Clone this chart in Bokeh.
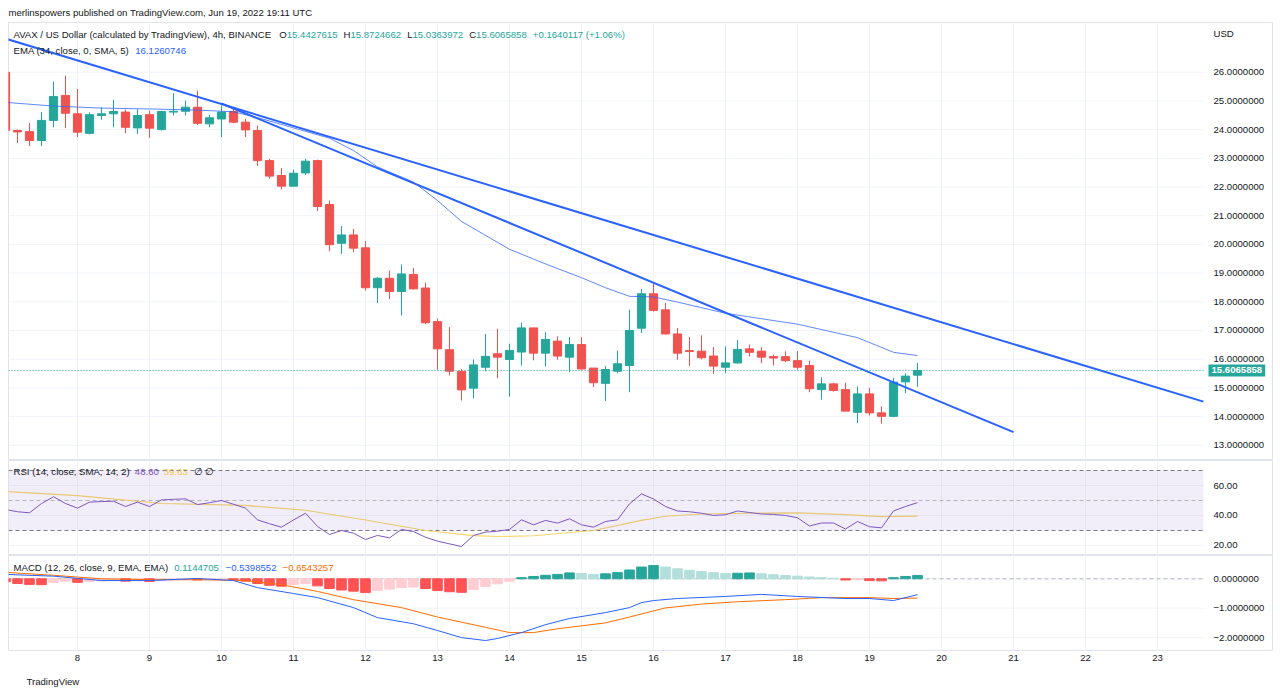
from bokeh.models import (Range1d, FixedTicker, Label, BoxAnnotation, Title,
                          ColumnDataSource, PrintfTickFormatter)
from bokeh.plotting import figure
from bokeh.layouts import column
from bokeh.embed import file_html
from bokeh.resources import INLINE

# ---------------- data (4h candles, index 0 = Jun 7 00:00 UTC) ----------------
days = [8, 9, 10, 11, 12, 13, 14, 15, 16, 17, 18, 19, 20, 21, 22, 23]
day_labels = [str(d) for d in days]

opens = [26.00, 23.97, 23.93, 23.62, 24.32, 25.19, 24.55, 23.87, 24.49, 24.55,
         24.61, 24.06, 24.52, 24.00, 24.61, 24.64, 24.78, 24.20, 24.37, 24.63,
         24.26, 23.97, 22.92, 22.40, 22.03, 22.49, 22.92, 21.39, 20.04, 20.33,
         19.88, 18.49, 18.82, 18.36, 18.95, 18.48, 17.31, 16.33, 15.58, 14.99,
         15.72, 16.19, 15.99, 16.25, 17.09, 16.21, 16.63, 16.07, 16.51, 15.69,
         15.16, 15.58, 15.78, 17.08, 18.28, 17.72, 16.88, 16.30, 16.28, 16.11,
         15.72, 15.87, 16.36, 16.28, 16.09, 16.09, 15.95, 15.78, 14.94, 15.14,
         14.94, 14.15, 14.79, 14.13, 14.01, 15.21, 15.4427615]
highs = [26.05, 24.00, 24.23, 24.61, 25.67, 25.88, 25.42, 24.60, 24.78, 25.04,
         24.70, 24.72, 24.66, 24.66, 25.27, 25.01, 25.36, 24.52, 24.84, 24.72,
         24.38, 24.14, 22.98, 22.66, 22.60, 22.98, 22.95, 21.53, 20.64, 20.54,
         20.11, 18.86, 19.09, 19.30, 19.18, 18.66, 17.41, 17.12, 15.66, 15.99,
         16.88, 17.06, 16.54, 17.27, 17.09, 16.94, 16.80, 16.77, 16.77, 15.69,
         15.76, 16.30, 17.72, 18.45, 18.68, 17.96, 17.09, 16.77, 16.83, 16.42,
         16.45, 16.67, 16.51, 16.42, 16.16, 16.28, 16.28, 15.95, 15.37, 15.18,
         15.18, 15.05, 15.00, 14.36, 15.35, 15.51, 15.8724662]
lows = [23.90, 23.53, 23.43, 23.43, 24.08, 24.05, 23.74, 23.83, 24.34, 24.08,
        23.87, 23.85, 23.71, 23.97, 24.49, 24.49, 24.16, 24.08, 23.74, 24.22,
        23.74, 22.73, 22.29, 21.91, 22.03, 22.42, 21.16, 19.76, 19.67, 19.73,
        18.39, 17.96, 18.10, 17.52, 18.43, 17.23, 15.63, 15.43, 14.56, 14.64,
        15.58, 15.34, 14.70, 15.78, 15.96, 15.75, 15.98, 15.55, 15.64, 15.03,
        14.54, 15.51, 14.85, 16.91, 17.66, 16.86, 15.98, 15.76, 15.99, 15.49,
        15.51, 15.84, 16.09, 15.86, 15.78, 15.90, 15.63, 14.85, 14.59, 14.87,
        14.19, 13.77, 14.04, 13.75, 13.98, 14.82, 15.0363972]
closes = [23.97, 23.92, 23.62, 24.32, 25.15, 24.57, 23.91, 24.52, 24.55, 24.63,
          24.08, 24.49, 24.05, 24.63, 24.64, 24.78, 24.22, 24.41, 24.61, 24.26,
          23.99, 22.92, 22.38, 22.03, 22.48, 22.90, 21.32, 19.99, 20.33, 19.87,
          18.49, 18.82, 18.36, 18.97, 18.45, 17.27, 16.36, 15.58, 14.93, 15.80,
          16.10, 16.07, 16.30, 17.09, 16.21, 16.69, 16.11, 16.51, 15.66, 15.18,
          15.64, 15.84, 17.00, 18.28, 17.70, 16.88, 16.21, 16.27, 16.05, 15.76,
          15.87, 16.34, 16.24, 16.07, 16.04, 15.95, 15.72, 14.97, 15.14, 14.91,
          14.19, 14.79, 14.13, 14.01, 15.20, 15.41, 15.6065858]

ema_idx = [0, 4, 8, 12, 16, 19, 21, 24, 27, 29, 31, 34, 36, 38, 42, 45, 48, 50,
           52, 54, 56, 60, 66, 71, 74, 76]
ema_val = [24.95, 24.82, 24.75, 24.72, 24.68, 24.62, 24.42, 24.06, 23.70, 23.27,
           22.70, 22.17, 21.53, 20.80, 19.83, 19.32, 18.84, 18.49, 18.19, 18.17,
           17.99, 17.60, 17.22, 16.75, 16.24, 16.126]

upper_tl_idx = [0, 99.83]
upper_tl_val = [27.17, 14.52]
lower_tl_idx = [18, 84]
lower_tl_val = [24.91, 13.46]

rsi_vals = [44.0, 42.5, 41.8, 48.0, 52.5, 48.0, 44.9, 48.9, 49.3, 49.5,
            46.0, 48.9, 46.0, 50.4, 50.8, 51.1, 47.3, 48.5, 50.0, 47.5,
            44.9, 37.1, 34.5, 32.2, 37.0, 41.5, 32.7, 27.3, 30.0, 28.2,
            24.0, 26.7, 25.1, 30.7, 29.3, 25.5, 22.9, 21.1, 19.3, 26.7,
            28.9, 29.5, 30.7, 37.1, 33.8, 36.7, 34.9, 37.8, 33.8, 32.2,
            36.0, 37.1, 47.8, 54.4, 51.0, 46.0, 43.0, 42.5, 41.5, 40.0,
            40.5, 43.0, 42.0, 41.0, 40.7, 40.0, 38.5, 33.0, 35.0, 35.0,
            31.0, 36.0, 32.5, 31.8, 43.0, 46.0, 48.60]
rsi_ma_idx = [0, 6, 13, 20, 25, 30, 35, 39, 41, 44, 49, 53, 55, 58, 62, 66, 70, 73, 76]
rsi_ma_val = [56.0, 53.3, 48.0, 46.7, 43.5, 37.0, 30.0, 26.6, 26.0, 26.5, 30.0,
              36.7, 39.5, 41.0, 41.5, 41.8, 40.6, 39.2, 39.63]
rsi_levels = [70, 50, 30]
rsi_ticks = [20, 40, 60]

macd_idx = [0, 4, 8, 12, 16, 19, 21, 24, 26, 29, 31, 34, 36, 38, 40, 41, 43, 45,
            47, 50, 52, 53, 54, 56, 60, 63, 66, 70, 72, 74, 76]
macd_val = [0.15, 0.09, -0.06, -0.06, 0.01, -0.06, -0.30, -0.50, -0.64, -0.98,
            -1.32, -1.53, -1.76, -2.00, -2.10, -2.03, -1.83, -1.56, -1.35, -1.15,
            -0.98, -0.81, -0.74, -0.67, -0.60, -0.53, -0.60, -0.67, -0.67, -0.74,
            -0.5398552]
signal_idx = [0, 4, 8, 12, 16, 20, 23, 26, 29, 33, 36, 40, 42, 44, 46, 50, 52,
              55, 58, 61, 65, 68, 72, 74, 76]
signal_val = [0.22, 0.12, 0.00, -0.03, -0.03, -0.06, -0.20, -0.43, -0.71, -0.98,
              -1.30, -1.65, -1.83, -1.83, -1.70, -1.50, -1.30, -0.99, -0.86,
              -0.78, -0.71, -0.64, -0.64, -0.67, -0.6543257]
hist_vals = [-0.10, -0.16, -0.19, -0.20, -0.12, -0.08, -0.12, -0.09, -0.07, -0.05,
             -0.08, -0.06, -0.09, -0.06, -0.04, -0.03, -0.04, -0.03, -0.02, -0.03,
             -0.08, -0.16, -0.22, -0.25, -0.20, -0.16, -0.24, -0.33, -0.38, -0.42,
             -0.47, -0.40, -0.35, -0.30, -0.28, -0.33, -0.40, -0.44, -0.46, -0.36,
             -0.26, -0.17, -0.08, 0.04, 0.08, 0.12, 0.15, 0.20, 0.18, 0.15,
             0.17, 0.21, 0.30, 0.40, 0.45, 0.40, 0.34, 0.29, 0.25, 0.21,
             0.18, 0.19, 0.20, 0.17, 0.14, 0.11, 0.09, 0.06, 0.04, 0.02,
             -0.04, -0.03, -0.06, -0.07, 0.04, 0.08, 0.1144705]
macd_ticks = [0, -1, -2]
price_ticks = list(range(13, 27))

# ---------------- styling ----------------
FONT = "Liberation Sans"
FS = "9.6px"
TXT = "#131722"
UP = "#26a69a"
DOWN = "#ef5350"
GRID = "#f0f3fa"
BLUE = "#2962ff"
LEFT = 8            # page margin handled as border
FW = 1264           # frame spans chart + price scale column
PANE_W = 1195       # width of the drawing pane left of the price scale
X0 = 0.25
X_END = X0 + FW / 12.0
PANE_END = X0 + PANE_W / 12.0

AW = {' ': 278, '!': 278, '(': 333, ')': 333, '+': 584, ',': 278, '-': 333, '.': 278,
      '/': 278, ':': 278, '%': 889, '\u2212': 584, '\u2205': 600}
for ch in "0123456789":
    AW[ch] = 556
AW.update(dict(A=667, B=667, C=722, D=722, E=667, F=611, G=778, H=722, I=278, J=500,
               K=667, L=556, M=833, N=722, O=778, P=667, Q=778, R=722, S=667, T=611,
               U=722, V=667, W=944, X=667, Y=667, Z=611))
AW.update(dict(a=556, b=556, c=500, d=556, e=556, f=278, g=556, h=556, i=222, j=222,
               k=500, l=222, m=833, n=556, o=556, p=556, q=556, r=333, s=500, t=278,
               u=556, v=500, w=722, x=500, y=500, z=500))


def tw(s):
    return sum(AW.get(ch, 556) for ch in s) * 9.6 / 1000.0


def flow(p, x, y, segs):
    for text, color, gap in segs:
        p.add_layout(Label(x=x, y=y, x_units="screen", y_units="screen", text=text,
                           text_color=color, text_font=FONT, text_font_size=FS,
                           text_baseline="middle", text_align="left"))
        x += tw(text) + gap


n = len(closes)
xs = list(range(n))
day_x = [(d - 7) * 6 for d in days]
xr = Range1d(X0, X_END)


def make_fig(fh, y0, y1, ticks, fmt, min_top=0, xaxis=False):
    p = figure(frame_width=FW, frame_height=fh, x_range=xr, y_range=Range1d(y0, y1),
               x_axis_location="below" if xaxis else None, y_axis_location="right",
               output_backend="svg", toolbar_location=None,
               min_border_left=LEFT, min_border_right=8, min_border_top=min_top,
               min_border_bottom=0, outline_line_color="#e0e3eb",
               background_fill_color="white", border_fill_color="white")
    p.xgrid.ticker = FixedTicker(ticks=day_x)
    p.xgrid.grid_line_color = GRID
    p.ygrid.visible = False
    # horizontal grid lines limited to the drawing pane
    p.segment(x0=[X0] * len(ticks), x1=[PANE_END] * len(ticks), y0=ticks, y1=ticks,
              line_color=GRID, line_width=1, level="underlay")
    ay = p.yaxis[0]
    ay.ticker = FixedTicker(ticks=ticks)
    ay.axis_line_color = None
    ay.major_tick_line_color = None
    ay.minor_tick_line_color = None
    ay.major_tick_out = 0
    ay.major_tick_in = 0
    ay.major_label_text_font = FONT
    ay.major_label_text_font_size = FS
    ay.major_label_text_color = TXT
    ay.major_label_standoff = -59
    ay.formatter = PrintfTickFormatter(format=fmt)
    if xaxis:
        ax = p.xaxis[0]
        ax.ticker = FixedTicker(ticks=day_x)
        ax.major_label_overrides = {dx: lab for dx, lab in zip(day_x, day_labels)}
        ax.axis_line_color = None
        ax.major_tick_line_color = None
        ax.minor_tick_line_color = None
        ax.major_tick_out = 0
        ax.major_tick_in = 0
        ax.major_label_text_font = FONT
        ax.major_label_text_font_size = FS
        ax.major_label_text_color = TXT
        ax.major_label_standoff = 4
    return p


# ---------------- price pane ----------------
PH = 438
PY0, PY1 = 12.470, 27.732
p1 = make_fig(PH, PY0, PY1, price_ticks, "%.7f", min_top=22)
p1.add_layout(Title(text="merlinspowers published on TradingView.com, Jun 19, 2022 19:11 UTC",
                    align="left", text_font=FONT, text_font_size=FS,
                    text_font_style="normal", text_color=TXT, standoff=9, offset=0),
              "above")

colors = [UP if c >= o else DOWN for o, c in zip(opens, closes)]
src = ColumnDataSource(dict(x=xs, o=opens, h=highs, l=lows, c=closes,
                            top=[max(o, c) for o, c in zip(opens, closes)],
                            bottom=[min(o, c) for o, c in zip(opens, closes)],
                            color=colors))
p1.segment(x0="x", y0="l", x1="x", y1="h", line_color="color", line_width=1, source=src)
p1.vbar(x="x", width=0.68, top="top", bottom="bottom", fill_color="color",
        line_color="color", line_width=1, source=src)

p1.line(ema_idx, ema_val, line_color=BLUE, line_width=1, line_alpha=0.75)
p1.line(upper_tl_idx, upper_tl_val, line_color=BLUE, line_width=2)
p1.line(lower_tl_idx, lower_tl_val, line_color=BLUE, line_width=2)
p1.segment(x0=[X0], x1=[PANE_END], y0=[closes[-1]], y1=[closes[-1]], line_color=UP,
           line_dash="1 2", line_width=1)

flow(p1, 5, 426, [("AVAX / US Dollar (calculated by TradingView), 4h, BINANCE", TXT, 6),
                  ("O", TXT, 0), ("15.4427615", UP, 6),
                  ("H", TXT, 0), ("15.8724662", UP, 6),
                  ("L", TXT, 0), ("15.0363972", UP, 6),
                  ("C", TXT, 0), ("15.6065858", UP, 6),
                  ("+0.1640117 (+1.06%)", UP, 0)])
flow(p1, 5, 410, [("EMA (34, close, 0, SMA, 5)", TXT, 6), ("16.1260746", BLUE, 0)])

p1.add_layout(Label(x=1205, y=427, x_units="screen", y_units="screen", text="USD",
                    text_color=TXT, text_font=FONT, text_font_size=FS,
                    text_baseline="middle"))
p1.add_layout(Label(x=1200, y=(closes[-1] - PY0) / (PY1 - PY0) * PH,
                    x_units="screen", y_units="screen", text="15.6065858",
                    text_color="white", text_font=FONT, text_font_size=FS,
                    text_font_style="bold", text_baseline="middle",
                    background_fill_color=UP, padding=3))

# ---------------- RSI pane ----------------
p2 = make_fig(95, 13.333, 76.667, rsi_ticks, "%.2f")
p2.add_layout(BoxAnnotation(left=X0, right=PANE_END, bottom=30, top=70,
                            fill_color="#7e57c2", fill_alpha=0.1, line_alpha=0))
for lv in rsi_levels:
    p2.segment(x0=[X0], x1=[PANE_END], y0=[lv], y1=[lv], line_color="#787b86",
               line_dash="4 3", line_width=1, line_alpha=0.5 if lv == 50 else 1.0)
p2.line(rsi_ma_idx, rsi_ma_val, line_color="#f5d46a", line_width=1.2)
p2.line(xs, rsi_vals, line_color="#7e57c2", line_width=1)
flow(p2, 5, 84, [("RSI (14, close, SMA, 14, 2)", TXT, 5), ("48.60", "#7e57c2", 5),
                 ("39.63", "#f2c94c", 6), ("\u2205", TXT, 5), ("\u2205", TXT, 0)])

# ---------------- MACD pane ----------------
MH = 95
p3 = make_fig(MH, -2.439, 0.793, macd_ticks, "%.7f", xaxis=True)
p3.yaxis[0].major_label_overrides = {0: "0.0000000", -1: "\u22121.0000000",
                                     -2: "\u22122.0000000"}
hist_colors = []
for i, h in enumerate(hist_vals):
    prev = hist_vals[i - 1] if i > 0 else h
    if h >= 0:
        hist_colors.append(UP if h >= prev else "#b2dfdb")
    else:
        hist_colors.append("#ff5252" if h <= prev else "#ffcdd2")
p3.segment(x0=[X0], x1=[PANE_END], y0=[0], y1=[0], line_color="#787b86",
           line_dash="4 3", line_width=1, line_alpha=0.5)
p3.vbar(x=xs, width=0.8, top=hist_vals, bottom=0, fill_color=hist_colors,
        line_color=hist_colors)
p3.line(signal_idx, signal_val, line_color="#ff6d00", line_width=1)
p3.line(macd_idx, macd_val, line_color=BLUE, line_width=1)
flow(p3, 5, 83, [("MACD (12, 26, close, 9, EMA, EMA)", TXT, 6), ("0.1144705", UP, 6),
                 ("\u22120.5398552", BLUE, 6), ("\u22120.6543257", "#ff6d00", 0)])
p3.add_layout(Title(text="TradingView", align="left", text_font=FONT, text_font_size=FS,
                    text_font_style="normal", text_color=TXT, standoff=21, offset=18),
              "below")

layout = column(p1, p2, p3)
open("out.html", "w").write(file_html(layout, INLINE))
